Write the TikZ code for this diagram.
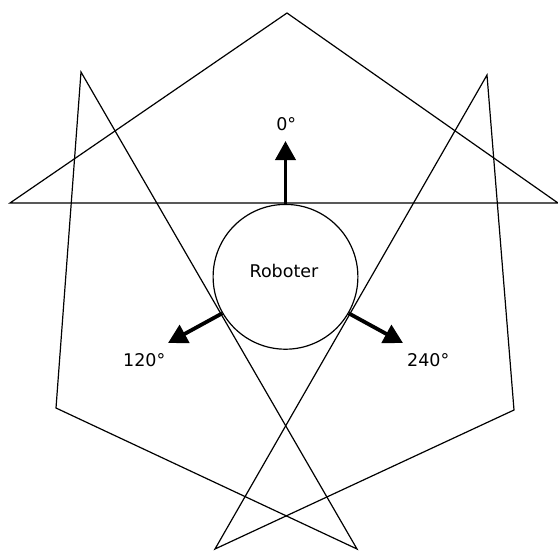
\documentclass[tikz,border=0pt]{standalone}
\usepackage{fontspec}
\setmainfont{DejaVu Sans}
\usetikzlibrary{arrows.meta}
\begin{document}
\begin{tikzpicture}[x=1pt,y=-1pt,
  edge/.style={line width=1.2pt,line join=miter},
  dirarrow/.style={line width=3.8pt,-{Triangle[width=20pt,length=19pt]}},
  lbl/.style={inner sep=0pt,font=\fontsize{17.5}{20}\selectfont},
  robotcircle/.style={circle,draw,line width=1.2pt,minimum size=144.8pt,inner sep=0pt}]
\useasboundingbox (0,0) rectangle (558,550);
% top triangle
\coordinate (t1) at (287,13);
\coordinate (t2) at (10,203);
\coordinate (t3) at (558,203);
% left triangle
\coordinate (l1) at (81,72);
\coordinate (l2) at (56,408);
\coordinate (l3) at (357,549);
% right triangle
\coordinate (r1) at (487,75);
\coordinate (r2) at (514,410);
\coordinate (r3) at (215,549);
\draw[edge] (t1) -- (t2) -- (t3) -- cycle;
\draw[edge] (l1) -- (l2) -- (l3) -- cycle;
\draw[edge] (r1) -- (r2) -- (r3) -- cycle;
% robot
\node[robotcircle] (robot) at (285.5,276.8) {};
\node[lbl] (name) at (284,271) {Roboter};
% arrow tips
\coordinate (a0) at (285.5,141);
\coordinate (a120) at (168,343);
\coordinate (a240) at (403,343);
\draw[dirarrow] (robot.90) -- (a0);
\draw[dirarrow] (robot.210) -- (a120);
\draw[dirarrow] (robot.330) -- (a240);
\node[lbl] (l0) at (286.3,124.5) {0°};
\node[lbl] (l120) at (144.2,359.7) {120°};
\node[lbl] (l240) at (428.3,359.7) {240°};
\end{tikzpicture}
\end{document}
